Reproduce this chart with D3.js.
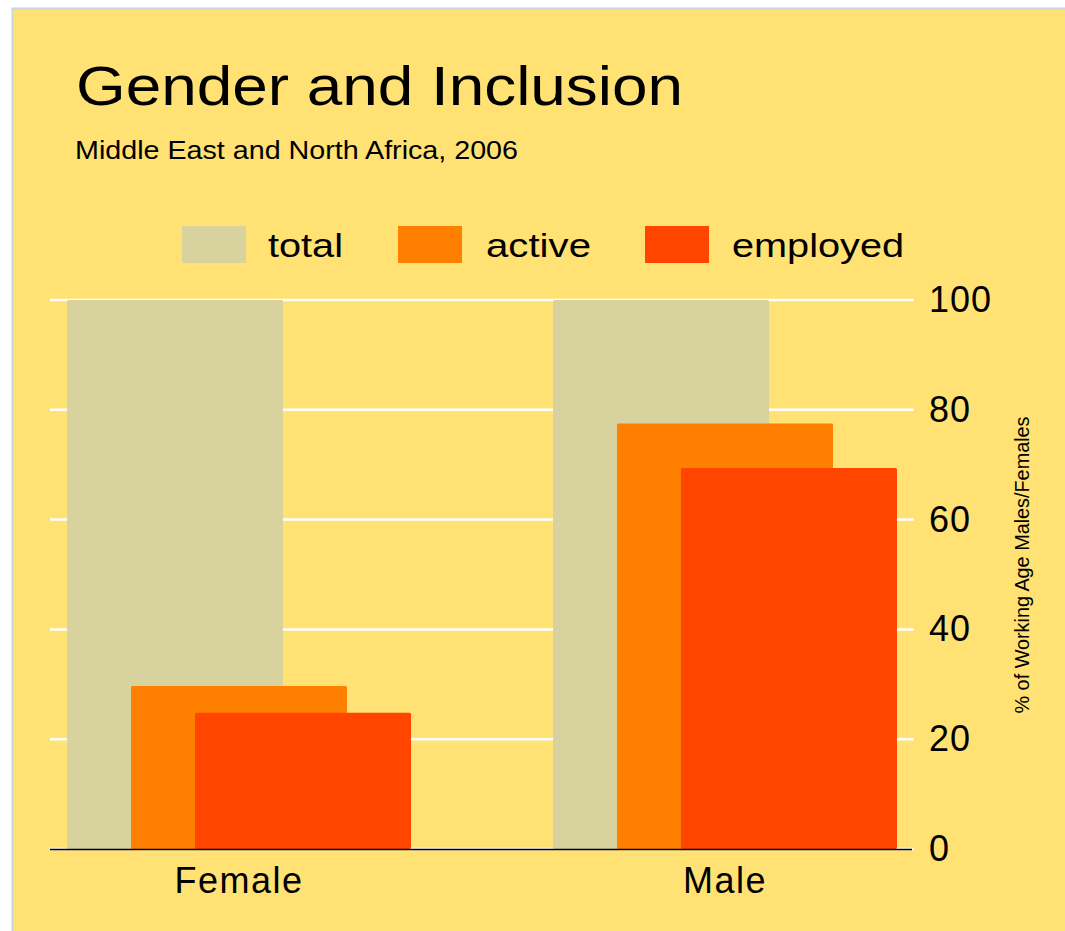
<!DOCTYPE html>
<html>
<head>
<meta charset="utf-8">
<script src="https://cdn.jsdelivr.net/npm/d3@7"></script>
<style>
  html, body { margin: 0; padding: 0; background: #fff; }
  text { font-family: "Liberation Sans", Arial, sans-serif; fill: #000; }
</style>
</head>
<body>
<div id="chart"></div>
<script>
const categories = ['Female', 'Male'];
const series = ['total', 'active', 'employed'];
const total = [100, 100];
const active = [29.7, 77.5];
const employed = [24.8, 69.4];
const yTicks = [0, 20, 40, 60, 80, 100];
const colors = ['#d8d29f', '#ff7f00', '#ff4500'];

const width = 1065;
const height = 931;
const values = { total, active, employed };

const svg = d3.select('#chart')
  .append('svg')
  .attr('width', width)
  .attr('height', height);

// panel
svg.append('rect')
  .attr('x', 12.5).attr('y', 8.5)
  .attr('width', width).attr('height', height)
  .attr('fill', '#ffe273')
  .attr('stroke', '#c6d6e4')
  .attr('stroke-width', 2);

const x = d3.scalePoint()
  .domain(categories)
  .range([239, 725]);

const offset = d3.scalePoint()
  .domain(series)
  .range([-64, 64]);

const barWidth = 216;

const y = d3.scaleLinear()
  .domain([0, 100])
  .range([849, 300]);

// grid
svg.append('g')
  .selectAll('line')
  .data(yTicks)
  .join('line')
  .attr('x1', 50).attr('x2', 914)
  .attr('y1', d => y(d)).attr('y2', d => y(d))
  .attr('stroke', '#fff')
  .attr('stroke-width', 2.5);

// bars
series.forEach((s, si) => {
  svg.append('g')
    .attr('fill', colors[si])
    .selectAll('rect')
    .data(categories)
    .join('rect')
    .attr('x', (d) => x(d) + offset(s) - barWidth / 2)
    .attr('y', (d, i) => y(values[s][i]))
    .attr('width', barWidth)
    .attr('height', (d, i) => y(0) - y(values[s][i]))
    .attr('rx', 1.5);
});

// baseline
svg.append('line')
  .attr('x1', 50).attr('x2', 912)
  .attr('y1', y(0) + 0.5).attr('y2', y(0) + 0.5)
  .attr('stroke', '#000')
  .attr('stroke-width', 1.5);

// y axis on the right
const yAxis = svg.append('g')
  .attr('transform', 'translate(914,0)')
  .call(d3.axisRight(y).tickValues(yTicks).tickSize(0).tickPadding(15));
yAxis.select('.domain').remove();
yAxis.selectAll('text')
  .attr('font-size', 36)
  .attr('font-family', '"Liberation Sans", Arial, sans-serif')
  .attr('letter-spacing', 1)
  .attr('fill', '#000');

svg.append('text')
  .attr('transform', 'translate(1029,565) rotate(-90)')
  .attr('text-anchor', 'middle')
  .attr('font-size', 20)
  .attr('textLength', 297)
  .attr('lengthAdjust', 'spacingAndGlyphs')
  .text('% of Working Age Males/Females');

// category labels
svg.append('g')
  .selectAll('text')
  .data(categories)
  .join('text')
  .attr('x', d => x(d))
  .attr('y', 893)
  .attr('text-anchor', 'middle')
  .attr('font-size', 36)
  .attr('letter-spacing', 1.5)
  .text(d => d);

// title
svg.append('text')
  .attr('x', 76).attr('y', 105)
  .attr('font-size', 56)
  .attr('textLength', 607)
  .attr('lengthAdjust', 'spacingAndGlyphs')
  .text('Gender and Inclusion');

svg.append('text')
  .attr('x', 75).attr('y', 159)
  .attr('font-size', 26)
  .attr('textLength', 443)
  .attr('lengthAdjust', 'spacingAndGlyphs')
  .text('Middle East and North Africa, 2006');

// legend
const legendItems = [
  { key: 'total', box: 182, label: 268, len: 75 },
  { key: 'active', box: 398, label: 486, len: 105 },
  { key: 'employed', box: 645, label: 732, len: 172 }
];
const legend = svg.append('g');
legend.selectAll('rect')
  .data(legendItems)
  .join('rect')
  .attr('x', d => d.box)
  .attr('y', 226)
  .attr('width', 64)
  .attr('height', 37)
  .attr('fill', d => colors[series.indexOf(d.key)]);
legend.selectAll('text')
  .data(legendItems)
  .join('text')
  .attr('x', d => d.label)
  .attr('y', 257)
  .attr('font-size', 34)
  .attr('textLength', d => d.len)
  .attr('lengthAdjust', 'spacingAndGlyphs')
  .text(d => d.key);
</script>
</body>
</html>
